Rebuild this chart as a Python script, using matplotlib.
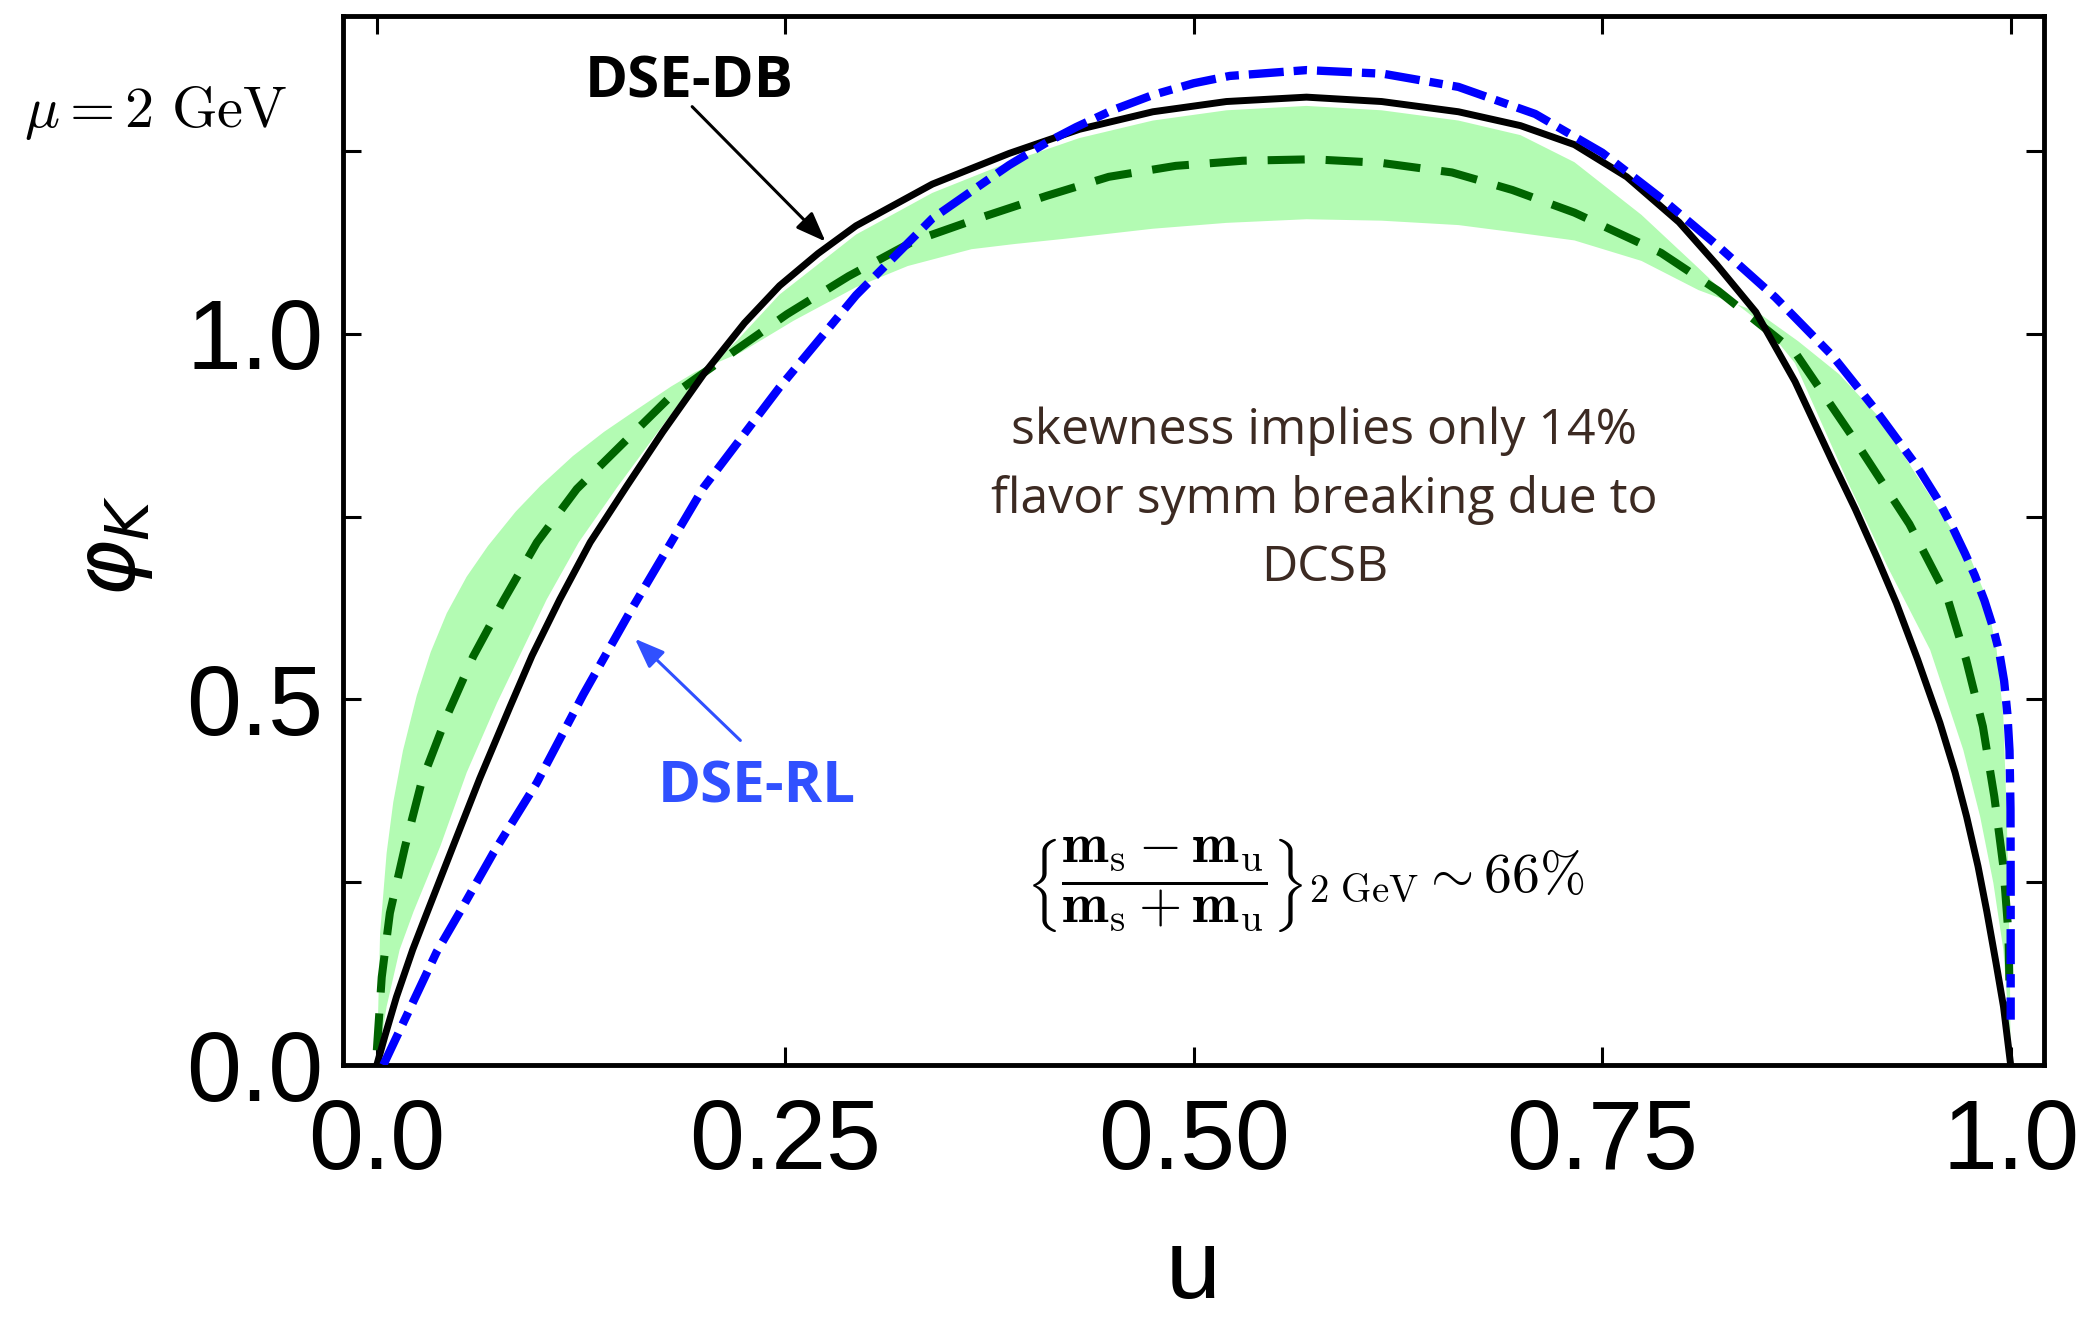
import matplotlib
matplotlib.use('Agg')
import matplotlib.pyplot as plt
from matplotlib.ticker import FixedLocator, FixedFormatter, NullFormatter

# ---------------- data ----------------
# DSE-DB (black solid)
u_db = [0.0, 0.005, 0.012, 0.022, 0.0305, 0.0468, 0.063, 0.0815, 0.095, 0.112,
        0.1306, 0.153, 0.175, 0.2, 0.225, 0.2465, 0.27, 0.2933, 0.34, 0.387,
        0.43, 0.475, 0.52, 0.569, 0.615, 0.662, 0.70, 0.733, 0.765, 0.797,
        0.82, 0.844, 0.868, 0.891, 0.905, 0.918, 0.93, 0.943, 0.9567, 0.966,
        0.973, 0.98, 0.9854, 0.991, 0.9956, 1.0]
phi_db = [0.0, 0.04, 0.093, 0.158, 0.207, 0.30, 0.392, 0.49, 0.56, 0.637,
          0.715, 0.792, 0.866, 0.945, 1.015, 1.066, 1.11, 1.148, 1.205, 1.247,
          1.28, 1.304, 1.318, 1.324, 1.318, 1.304, 1.285, 1.259, 1.215, 1.153,
          1.095, 1.03, 0.935, 0.825, 0.76, 0.695, 0.632, 0.555, 0.468, 0.40,
          0.34, 0.272, 0.21, 0.14, 0.08, 0.0]

# central DSE curve (green dashed)
u_mid = [0.0, 0.003, 0.008, 0.0173, 0.0275, 0.0428, 0.059, 0.0774, 0.098, 0.1224,
         0.155, 0.18, 0.221, 0.251, 0.2887, 0.3285, 0.368, 0.41, 0.448, 0.489,
         0.53, 0.573, 0.615, 0.658, 0.695, 0.733, 0.786, 0.821, 0.868, 0.903,
         0.938, 0.961, 0.9728, 0.983, 0.990, 0.9955, 0.9986, 0.9996]
phi_mid = [0.02, 0.12, 0.208, 0.299, 0.388, 0.477, 0.559, 0.635, 0.715, 0.788,
           0.86, 0.915, 0.98, 1.027, 1.079, 1.127, 1.158, 1.189, 1.215, 1.230,
           1.237, 1.239, 1.234, 1.221, 1.197, 1.166, 1.111, 1.059, 0.975, 0.86,
           0.74, 0.641, 0.554, 0.463, 0.367, 0.272, 0.181, 0.075]

# DSE-RL (blue dash-dot)
u_rl = [0.004, 0.0367, 0.051, 0.0713, 0.0979, 0.1264, 0.155, 0.2, 0.2465, 0.2933,
        0.34, 0.365, 0.387, 0.41, 0.428, 0.45, 0.475, 0.50, 0.522, 0.569,
        0.616, 0.662, 0.709, 0.75, 0.787, 0.821, 0.856, 0.891, 0.916, 0.943,
        0.955, 0.9645, 0.972, 0.978, 0.984, 0.989, 0.993, 0.996, 0.998, 0.9993,
        0.9999, 1.0, 1.0]
phi_rl = [0.0, 0.155, 0.21, 0.29, 0.386, 0.507, 0.62, 0.79, 0.927, 1.053,
          1.158, 1.197, 1.231, 1.262, 1.283, 1.306, 1.327, 1.343, 1.353, 1.361,
          1.356, 1.338, 1.301, 1.248, 1.184, 1.12, 1.05, 0.97, 0.90, 0.818,
          0.775, 0.735, 0.70, 0.67, 0.635, 0.60, 0.565, 0.525, 0.48, 0.43,
          0.35, 0.249, 0.062]

# uncertainty band: the two bounding curves
band_a_u = [0.0, 0.002, 0.006, 0.0101, 0.016, 0.0244, 0.033, 0.0428, 0.055, 0.068,
            0.085, 0.10, 0.12, 0.139, 0.16, 0.18, 0.195, 0.223, 0.255, 0.2933,
            0.325, 0.364, 0.39, 0.42, 0.475, 0.52, 0.569, 0.615, 0.662, 0.70,
            0.733, 0.774, 0.809, 0.845, 0.87, 0.895, 0.92, 0.94, 0.959, 0.976,
            0.985, 0.9914, 0.9955, 0.9976, 0.9986, 0.9996, 1.0]
band_a_phi = [0.0, 0.18, 0.29, 0.36, 0.43, 0.505, 0.565, 0.618, 0.668, 0.71,
              0.757, 0.792, 0.833, 0.866, 0.898, 0.928, 0.948, 0.975, 1.018, 1.064,
              1.093, 1.116, 1.123, 1.13, 1.144, 1.152, 1.157, 1.155, 1.149, 1.138,
              1.128, 1.10, 1.06, 1.03, 0.99, 0.945, 0.885, 0.815, 0.75, 0.69,
              0.64, 0.568, 0.477, 0.34, 0.249, 0.112, 0.0]
band_b_u = [0.0, 0.006, 0.014, 0.0225, 0.039, 0.055, 0.0735, 0.104, 0.1236, 0.147,
            0.17, 0.195, 0.22, 0.2465, 0.2933, 0.34, 0.387, 0.43, 0.475, 0.52,
            0.569, 0.615, 0.662, 0.70, 0.733, 0.774, 0.809, 0.83, 0.85, 0.868,
            0.9004, 0.925, 0.9507, 0.971, 0.9813, 0.9894, 0.9955, 0.9986, 1.0]
band_b_phi = [0.0, 0.08, 0.158, 0.21, 0.30, 0.40, 0.495, 0.637, 0.715, 0.79,
              0.86, 0.935, 0.99, 1.054, 1.136, 1.193, 1.235, 1.268, 1.292, 1.306,
              1.312, 1.306, 1.292, 1.272, 1.235, 1.163, 1.09, 1.045, 1.01, 0.96,
              0.797, 0.68, 0.568, 0.431, 0.34, 0.249, 0.158, 0.066, 0.0]

x_ticks = [0.0, 0.25, 0.5, 0.75, 1.0]
x_tick_labels = ["0.0", "0.25", "0.50", "0.75", "1.0"]
y_ticks = [0.0, 0.5, 1.0]
y_tick_labels = ["0.0", "0.5", "1.0"]
y_minor_ticks = [0.25, 0.75, 1.25]

# ---------------- figure ----------------
W, H = 2088, 1322
fig = plt.figure(figsize=(W / 100, H / 100), dpi=100)
ax = fig.add_axes([343 / W, 1 - 1065 / H, (2044 - 343) / W, (1065 - 16) / H])

ax.fill(band_a_u + band_b_u[::-1], band_a_phi + band_b_phi[::-1],
        color='#b3fbb3', lw=0, zorder=1)
ax.plot(u_mid, phi_mid, color='#006400', lw=5.8, dashes=(4.6, 2.6), zorder=2)
ax.plot(u_db, phi_db, color='black', lw=5.0, zorder=3, solid_joinstyle='round')
ax.plot(u_rl, phi_rl, color='#0000ff', lw=6.0, dashes=(4.2, 1.2, 1.6, 1.2), zorder=4)

ax.set_xlim(-0.0207, 1.0204)
ax.set_ylim(0.0, 1.435)

ax.xaxis.set_major_locator(FixedLocator(x_ticks))
ax.xaxis.set_major_formatter(FixedFormatter(x_tick_labels))
ax.yaxis.set_major_locator(FixedLocator(y_ticks))
ax.yaxis.set_major_formatter(FixedFormatter(y_tick_labels))
ax.yaxis.set_minor_locator(FixedLocator(y_minor_ticks))
ax.yaxis.set_minor_formatter(NullFormatter())
ax.tick_params(which='both', direction='in', top=True, right=True,
               length=13, width=2.2, color='black')
ax.tick_params(axis='x', pad=24)
ax.tick_params(axis='y', pad=14)
for lab in ax.get_xticklabels() + ax.get_yticklabels():
    lab.set_fontfamily('Liberation Sans')
    lab.set_fontsize(71)
for sp in ax.spines.values():
    sp.set_linewidth(3.5)

ax.set_xlabel('u', fontfamily='Liberation Sans', fontsize=71)
ax.xaxis.label.set_va('bottom')
ax.xaxis.set_label_coords(0.5, -0.2415)
ax.set_ylabel(r'$\varphi_K$', fontsize=62, math_fontfamily='dejavusans')
ax.yaxis.label.set_va('center')
ax.yaxis.set_label_coords(-0.135, 0.495)

# ---------------- annotations ----------------
fig.text(24 / W, 1 - 113 / H, r'$\mu = \mathbf{2}\ \mathrm{GeV}$',
         fontsize=42, math_fontfamily='cm', ha='left', va='center')

hand = 'Open Sans'
ax.text(0.1915, 1.344, 'DSE-DB', fontsize=42, fontweight='bold', fontfamily=hand,
        color='black', ha='center', va='center')
ax.annotate('', xy=(0.2746, 1.1265), xytext=(0.193, 1.311),
            arrowprops=dict(arrowstyle='-|>,head_length=1.3,head_width=0.5',
                            mutation_scale=14, color='black', lw=2.2,
                            shrinkA=0, shrinkB=0))
ax.text(0.2323, 0.379, 'DSE-RL', fontsize=42, fontweight='bold', fontfamily=hand,
        color='#3050ff', ha='center', va='center')
ax.annotate('', xy=(0.158, 0.583), xytext=(0.2225, 0.444),
            arrowprops=dict(arrowstyle='-|>,head_length=1.3,head_width=0.5',
                            mutation_scale=14, color='#3050ff', lw=2.2,
                            shrinkA=0, shrinkB=0))

ax.text(0.580, 0.773,
        'skewness implies only 14%\nflavor symm breaking due to\nDCSB',
        fontsize=36, fontfamily=hand, color='#3c2a22', ha='center', va='center',
        linespacing=1.5)

ax.text(0.568, 0.246,
        r'$\left\{\dfrac{\mathbf{m}_{\mathrm{s}} - \mathbf{m}_{\mathrm{u}}}'
        r'{\mathbf{m}_{\mathrm{s}} + \mathbf{m}_{\mathrm{u}}}\right\}_{\mathbf{2}\ \mathrm{GeV}}'
        r'\sim \mathbf{66}\%$',
        fontsize=40, math_fontfamily='cm', ha='center', va='center')

fig.savefig('out.png', dpi=100)
